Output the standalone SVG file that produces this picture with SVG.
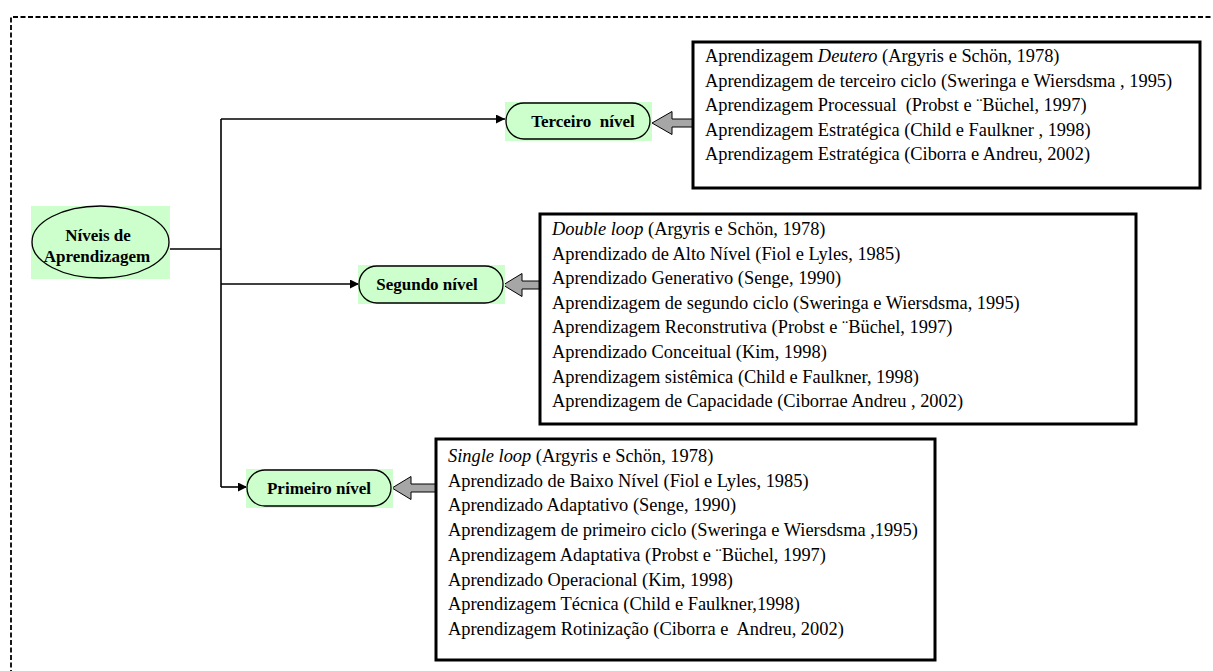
<svg xmlns="http://www.w3.org/2000/svg" width="1213" height="671" viewBox="0 0 1213 671">
<defs>
<style>
.frame{fill:none;stroke:#000;stroke-width:1.8;stroke-dasharray:5 2.5}
.bg{fill:#CCFFCC}
.nd{fill:#CCFFCC;stroke:#000;stroke-width:1.3}
.lbl{font-family:"Liberation Serif","Times New Roman",serif;font-weight:bold;font-size:17px;fill:#000;text-anchor:middle}
.box{fill:#fff;stroke:#000;stroke-width:3}
.t{font-family:"Liberation Serif","Times New Roman",serif;font-size:18.4px;fill:#000}
.con{fill:none;stroke:#000;stroke-width:1.6}
.blk{fill:#A6A6A6;stroke:#000;stroke-width:1}
</style>
<marker id="ah" viewBox="0 0 10 10" refX="10" refY="5" markerWidth="9" markerHeight="9" markerUnits="userSpaceOnUse" orient="auto">
<path d="M0,0 L10,5 L0,10 Z" fill="#000"/>
</marker>
</defs>
<rect width="1213" height="671" fill="#fff"/>
<path class="frame" d="M11,690 V17 H1212"/>

<g id="connectors">
<path class="con" d="M169,249 H221"/>
<path class="con" d="M221,119 V487"/>
<path class="con" d="M221,119 H505" marker-end="url(#ah)"/>
<path class="con" d="M221,284 H359" marker-end="url(#ah)"/>
<path class="con" d="M221,487 H247" marker-end="url(#ah)"/>
<path class="blk" d="M693,119 H672 V111.5 L652,123 L672,134.5 V127 H693 Z"/>
<path class="blk" d="M540,281 H522 V273.5 L503,285 L522,296.5 V289 H540 Z"/>
<path class="blk" d="M436,484 H411 V476.5 L392,488 L411,499.5 V492 H436 Z"/>
</g>

<g id="root">
<rect class="bg" x="31" y="206" width="139" height="73"/>
<ellipse class="nd" cx="100.5" cy="242" rx="68.5" ry="36"/>
<text class="lbl" x="98" y="241">Níveis de</text>
<text class="lbl" x="97" y="262">Aprendizagem</text>
</g>

<g id="terceiro">
<rect class="bg" x="505" y="102" width="147" height="39"/>
<rect class="nd" x="506" y="103" width="144" height="36" rx="18"/>
<text class="lbl" x="583" y="127" xml:space="preserve">Terceiro  nível</text>
</g>

<g id="segundo">
<rect class="bg" x="358" y="265" width="147" height="39"/>
<rect class="nd" x="359" y="266" width="144" height="37" rx="18"/>
<text class="lbl" x="427" y="290">Segundo nível</text>
</g>

<g id="primeiro">
<rect class="bg" x="246" y="469" width="147" height="39"/>
<rect class="nd" x="247" y="470" width="144" height="36" rx="18"/>
<text class="lbl" x="319" y="494">Primeiro nível</text>
</g>

<g id="box-terceiro">
<rect class="box" x="693" y="42" width="507" height="146"/>
<text class="t" x="705" y="62">Aprendizagem <tspan font-style="italic">Deutero</tspan> (Argyris e Schön, 1978)</text>
<text class="t" x="705" y="86.6">Aprendizagem de terceiro ciclo (Sweringa e Wiersdsma , 1995)</text>
<text class="t" x="705" y="111.2" xml:space="preserve">Aprendizagem Processual  (Probst e ¨Büchel, 1997)</text>
<text class="t" x="705" y="135.8">Aprendizagem Estratégica (Child e Faulkner , 1998)</text>
<text class="t" x="705" y="160.4">Aprendizagem Estratégica (Ciborra e Andreu, 2002)</text>
</g>

<g id="box-segundo">
<rect class="box" x="540" y="214" width="596" height="210"/>
<text class="t" x="552" y="235"><tspan font-style="italic">Double loop</tspan> (Argyris e Schön, 1978)</text>
<text class="t" x="552" y="259.6">Aprendizado de Alto Nível (Fiol e Lyles, 1985)</text>
<text class="t" x="552" y="284.2">Aprendizado Generativo (Senge, 1990)</text>
<text class="t" x="552" y="308.8">Aprendizagem de segundo ciclo (Sweringa e Wiersdsma, 1995)</text>
<text class="t" x="552" y="333.4">Aprendizagem Reconstrutiva (Probst e ¨Büchel, 1997)</text>
<text class="t" x="552" y="358">Aprendizado Conceitual (Kim, 1998)</text>
<text class="t" x="552" y="382.6">Aprendizagem sistêmica (Child e Faulkner, 1998)</text>
<text class="t" x="552" y="407.2">Aprendizagem de Capacidade (Ciborrae Andreu , 2002)</text>
</g>

<g id="box-primeiro">
<rect class="box" x="436" y="439" width="499" height="221"/>
<text class="t" x="448" y="462"><tspan font-style="italic">Single loop</tspan> (Argyris e Schön, 1978)</text>
<text class="t" x="448" y="486.7">Aprendizado de Baixo Nível (Fiol e Lyles, 1985)</text>
<text class="t" x="448" y="511.4">Aprendizado Adaptativo (Senge, 1990)</text>
<text class="t" x="448" y="536.1">Aprendizagem de primeiro ciclo (Sweringa e Wiersdsma ,1995)</text>
<text class="t" x="448" y="560.8">Aprendizagem Adaptativa (Probst e ¨Büchel, 1997)</text>
<text class="t" x="448" y="585.5">Aprendizado Operacional (Kim, 1998)</text>
<text class="t" x="448" y="610.2">Aprendizagem Técnica (Child e Faulkner,1998)</text>
<text class="t" x="448" y="634.9" xml:space="preserve">Aprendizagem Rotinização (Ciborra e  Andreu, 2002)</text>
</g>
</svg>
